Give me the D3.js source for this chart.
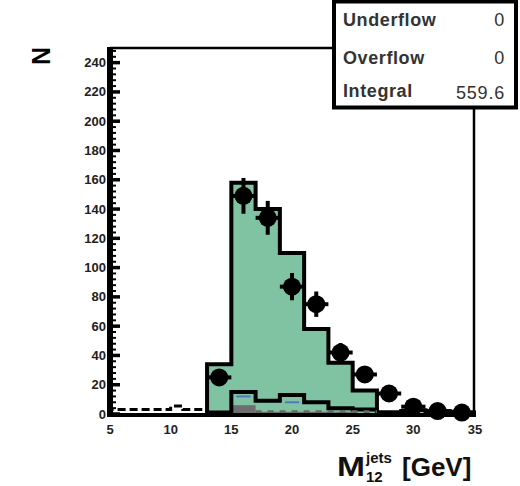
<!DOCTYPE html>
<html><head><meta charset="utf-8">
<script src="https://cdn.jsdelivr.net/npm/d3@7"></script>
<style>body{margin:0;background:#fff}svg{display:block}text{font-family:"Liberation Sans",Arial,sans-serif}</style>
</head><body><svg id="c" width="520" height="486"></svg>
<script>
// ---- data ----
const binEdges = [5,7,9,11,13,15,17,19,21,23,25,27,29,31,33,35];
const signal   = [0,0,0,0,34,158,140,110,58,35,16,1,0,0,0];     // green filled histogram
const bkgBlack = [0,0,0,0,1,15,9,13,8,4,3,1,0,0,0];             // small black outline histogram
const bkgGray  = [0,0,0,0,0,6,1.5,1.5,1.5,1.5,0,0,0,0,0];       // gray filled
const bkgBlue  = [0,0,0,0,0,12,0,8,0,0,0,0,0,0,0];              // blue lines
const fineEdges = [5,6,7,8,9,10,11,12,13];
const fineVals  = [3,3,3,3,3,5.5,3,3];                           // dashed low histogram
const tailEdges = [29,30,31,32,33,34,35];
const tailVals  = [2,2.5,1.5,2,1.5,1];
const dataX = [14,16,18,20,22,24,26,28,30,32,34];
const dataY = [25,149,134,87,75,42,27,14,5,2,1];
const yTicks = [0,20,40,60,80,100,120,140,160,180,200,220,240];
const xTicks = [5,10,15,20,25,30,35];
const statLabels = ["Underflow","Overflow","Integral"];
const statValues = ["0","0","559.6"];

const svg = d3.select("#c");
const x = d3.scaleLinear().domain([5,35]).range([110,474]);
const y = d3.scaleLinear().domain([0,250]).range([414,48]);

function stepPath(edges, vals){
  let p = [];
  p.push([x(edges[0]), y(0)]);
  vals.forEach((v,i)=>{ p.push([x(edges[i]), y(v)]); p.push([x(edges[i+1]), y(v)]); });
  p.push([x(edges[edges.length-1]), y(0)]);
  return d3.line()(p);
}
function barsOf(sel, edges, vals, cls){
  return sel.selectAll("rect."+cls).data(vals.map((v,i)=>({v,i})).filter(d=>d.v>0)).join("rect")
    .attr("class",cls)
    .attr("x",d=>x(edges[d.i])).attr("width",d=>x(edges[d.i+1])-x(edges[d.i]))
    .attr("y",d=>y(d.v)).attr("height",d=>y(0)-y(d.v));
}

const g = svg.append("g");
g.append("path").attr("d", stepPath(binEdges.slice(4,13), signal.slice(4,12)))
  .attr("fill","#80c3a2").attr("stroke","#000").attr("stroke-width",4).attr("stroke-linejoin","miter");
barsOf(g, binEdges, bkgGray, "gray").attr("fill","#6e6e6e");
g.selectAll("line.blue").data(bkgBlue.map((v,i)=>({v,i})).filter(d=>d.v>0)).join("line")
  .attr("x1",d=>x(binEdges[d.i])+5).attr("x2",d=>x(binEdges[d.i+1])-5)
  .attr("y1",d=>y(d.v)).attr("y2",d=>y(d.v)).attr("stroke","#5577bb").attr("stroke-width",2);
g.append("path").attr("d", stepPath(binEdges.slice(4,13), bkgBlack.slice(4,12)))
  .attr("fill","none").attr("stroke","#000").attr("stroke-width",4);
g.append("path").attr("d", d3.line()([[x(17),y(1.5)],[x(27),y(1.5)]]))
  .attr("stroke","#666").attr("stroke-width",3).attr("stroke-dasharray","6,6").attr("fill","none");
g.append("path").attr("d", stepPath(fineEdges, fineVals))
  .attr("fill","none").attr("stroke","#000").attr("stroke-width",3).attr("stroke-dasharray","8,4");
g.append("path").attr("d", stepPath(tailEdges, tailVals))
  .attr("fill","none").attr("stroke","#000").attr("stroke-width",4);

const pts = g.selectAll("g.pt").data(dataX.map((d,i)=>({x:d,y:dataY[i]}))).join("g").attr("class","pt");
pts.append("line").attr("x1",d=>x(d.x)).attr("x2",d=>x(d.x))
  .attr("y1",d=>y(d.y+Math.sqrt(d.y))).attr("y2",d=>y(Math.max(0,d.y-Math.sqrt(d.y))))
  .attr("stroke","#000").attr("stroke-width",4);
pts.append("line").attr("x1",d=>x(d.x-1)).attr("x2",d=>x(d.x+1))
  .attr("y1",d=>y(d.y)).attr("y2",d=>y(d.y)).attr("stroke","#000").attr("stroke-width",4);
pts.append("circle").attr("cx",d=>x(d.x)).attr("cy",d=>y(d.y)).attr("r",9).attr("fill","#000");

// frame
svg.append("line").attr("x1",x(5)).attr("x2",x(35)).attr("y1",y(250)).attr("y2",y(250)).attr("stroke","#000").attr("stroke-width",2.5);
svg.append("line").attr("x1",x(35)).attr("x2",x(35)).attr("y1",y(250)).attr("y2",y(0)).attr("stroke","#000").attr("stroke-width",2.5);
svg.append("line").attr("x1",x(5)-3).attr("x2",x(35)+2).attr("y1",y(0)+1).attr("y2",y(0)+1).attr("stroke","#000").attr("stroke-width",4);
svg.append("line").attr("x1",x(5)).attr("x2",x(5)).attr("y1",y(250)-1).attr("y2",y(0)+3).attr("stroke","#000").attr("stroke-width",6);

const yAx = svg.append("g");
const minor = d3.range(0,251,4);
yAx.selectAll("line.mi").data(minor).join("line").attr("class","mi")
  .attr("x1",x(5)).attr("x2",x(5)+6).attr("y1",d=>y(d)).attr("y2",d=>y(d)).attr("stroke","#000").attr("stroke-width",2);
yAx.selectAll("line.ma").data(yTicks).join("line").attr("class","ma")
  .attr("x1",x(5)).attr("x2",x(5)+10).attr("y1",d=>y(d)).attr("y2",d=>y(d)).attr("stroke","#000").attr("stroke-width",3.5);
yAx.selectAll("text").data(yTicks).join("text")
  .attr("x",x(5)-4).attr("y",d=>y(d)+4.5).attr("text-anchor","end")
  .attr("font-size",13).attr("font-weight","bold").attr("fill","#222").text(d=>d);
svg.append("g").selectAll("text").data(xTicks).join("text")
  .attr("x",d=>x(d)+(d===35?1:0)).attr("y",434).attr("text-anchor","middle")
  .attr("font-size",13).attr("font-weight","bold").attr("fill","#222").text(d=>d);

svg.append("text").attr("transform","translate(50,56) rotate(-90)").attr("text-anchor","middle")
  .attr("font-size",25).attr("font-weight","bold").text("N");
const xt = svg.append("g").attr("font-weight","bold").attr("fill","#111");
xt.append("text").attr("x",337).attr("y",476).attr("font-size",27).attr("textLength",28).attr("lengthAdjust","spacingAndGlyphs").text("M");
xt.append("text").attr("x",366).attr("y",463).attr("font-size",15).text("jets");
xt.append("text").attr("x",366).attr("y",482).attr("font-size",15).text("12");
xt.append("text").attr("x",402).attr("y",476).attr("font-size",26).text("[GeV]");

svg.append("rect").attr("x",334).attr("y",1.5).attr("width",182).attr("height",106)
  .attr("fill","#fff").attr("stroke","#000").attr("stroke-width",4);
const sb = svg.append("g");
sb.selectAll("text.l").data(statLabels).join("text").attr("class","l")
  .attr("x",343).attr("y",(d,i)=>[26,64,97][i]).attr("font-size",18).attr("letter-spacing",0.6)
  .attr("font-weight","bold").attr("fill","#333").text(d=>d);
sb.selectAll("text.v").data(statValues).join("text").attr("class","v")
  .attr("x",505).attr("y",(d,i)=>[26,64,99][i]).attr("text-anchor","end").attr("font-size",18).attr("letter-spacing",0.8)
  .attr("fill","#333").text(d=>d);
</script></body></html>
